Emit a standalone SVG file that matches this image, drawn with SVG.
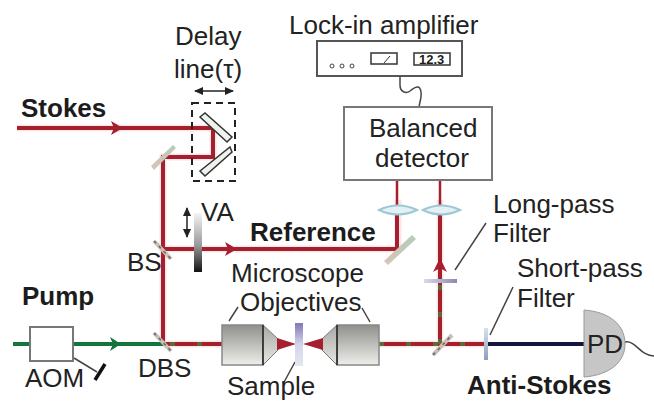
<svg xmlns="http://www.w3.org/2000/svg" width="654" height="401" viewBox="0 0 654 401">
<defs>
<linearGradient id="obj" x1="0" y1="0" x2="0" y2="1"><stop offset="0" stop-color="#8f8f8c"/><stop offset="1" stop-color="#eeeeea"/></linearGradient>
<linearGradient id="cone" x1="0" y1="0" x2="0" y2="1"><stop offset="0" stop-color="#a8a8a4"/><stop offset="1" stop-color="#e8e8e4"/></linearGradient>
<linearGradient id="va" x1="0" y1="0" x2="0" y2="1"><stop offset="0" stop-color="#f4f4f4"/><stop offset="0.55" stop-color="#999"/><stop offset="1" stop-color="#111"/></linearGradient>
<linearGradient id="sam" x1="0" y1="0" x2="0" y2="1"><stop offset="0" stop-color="#8078b8"/><stop offset="0.5" stop-color="#d4d4ea"/><stop offset="1" stop-color="#e4e8ee"/></linearGradient>
<linearGradient id="lp" x1="0" y1="0" x2="1" y2="0"><stop offset="0" stop-color="#d8dce8"/><stop offset="1" stop-color="#8a8ab4"/></linearGradient>
<linearGradient id="sp" x1="0" y1="0" x2="0" y2="1"><stop offset="0" stop-color="#d4e4ec"/><stop offset="1" stop-color="#8f9cc0"/></linearGradient>
<linearGradient id="mr" x1="0" y1="1" x2="1" y2="0"><stop offset="0" stop-color="#d8c4b8"/><stop offset="1" stop-color="#b4ccb8"/></linearGradient>
<marker id="ah" markerWidth="10" markerHeight="8" refX="8" refY="4" orient="auto-start-reverse" markerUnits="userSpaceOnUse"><path d="M0 0L9 4L0 8z" fill="#222"/></marker>
</defs>
<style>
text{font-family:"Liberation Sans",Arial,sans-serif;fill:#222;font-size:26px}
.b{font-weight:bold;fill:#1c1c1c}
.halo{fill:none;stroke:#fbe6e6;stroke-width:7}
.red{fill:none;stroke:#a51f2e;stroke-width:4}
.mix{fill:none;stroke:#5d6a3a;stroke-width:4;stroke-dasharray:5 22}
.grn{fill:none;stroke:#14753c;stroke-width:4}
.box{fill:#fff;stroke:#777;stroke-width:2}
.thin{fill:none;stroke:#444;stroke-width:1.5}
.lens{fill:#e4f1f4;stroke:#9cc8d4;stroke-width:2}
.bs{fill:none;stroke:#cbbfb6;stroke-width:4}
.bs2{fill:none;stroke:#666;stroke-width:1.5;stroke-dasharray:3 4}
.wf{fill:#eef3ee;stroke:#333;stroke-width:1.5}
</style>
<g id="connectors">
<path class="halo" d="M17 128H213V157H163V344M163 249H398V200M440 344V200M163 344H222M379 344H484"/>
<path class="red" d="M17 128H213V157H163V344"/>
<path class="red" d="M163 249H397V205"/>
<path class="red" d="M163 344H222"/>
<path class="red" d="M379 344H484"/>
<path class="mix" d="M170 344H222M379 344H484"/>
<path class="grn" d="M13 344H163"/>
<path class="red" d="M440 344V205"/>
<path class="mix" d="M440 344V285"/>
<path fill="none" stroke="#a51f2e" stroke-width="2.5" d="M397 205V181M440 205V181"/>
<path fill="#a51f2e" d="M237 249L225 242L228 249L225 256Z"/>
<path fill="#a51f2e" d="M123 128L111 121L114 128L111 135Z"/>
<path fill="#14753c" d="M121 344L110 337L113 344L110 351Z"/>
<path fill="#a51f2e" d="M440 258L433 272L440 268L447 272Z"/>
<path fill="none" stroke="#14143f" stroke-width="4" d="M487 344H585"/>
<path class="thin" d="M74 358L97 372M229 321L238 307M370 322L362 308M295 362L283 384M455 270L486 223M490 335L513 287M400 77V85C400 92 406 94 410 91C415 87 420 84 421 92C422 98 419 103 419 108"/>
<path class="thin" d="M625 342C636 340 640 356 654 356"/>
</g>
<g id="stokes"><text class="b" x="21" y="117">Stokes</text></g>
<g id="delay-line">
<text x="175" y="45">Delay</text><text x="174" y="78">line(τ)</text>
<path d="M195 91H233" stroke="#222" stroke-width="1.5" marker-start="url(#ah)" marker-end="url(#ah)"/>
<rect x="192" y="103" width="43" height="78" fill="none" stroke="#222" stroke-width="2" stroke-dasharray="7 5"/>
<path class="wf" d="M200 117L205 113L232 137L227 142Z"/>
<path class="wf" d="M230 147L232 152L205 176L200 171Z"/>
</g>
<g id="mirror-1"><path fill="url(#mr)" d="M151 166L173 145L176 148L154 170Z"/></g>
<g id="mirror-2"><path fill="url(#mr)" d="M384 261L412 235L416 239L388 265Z"/></g>
<g id="bs"><path class="bs" d="M154 241L171 259"/><path class="bs2" d="M154 241L171 259"/><text x="127" y="271">BS</text></g>
<g id="va"><rect x="194" y="213" width="8" height="59" fill="url(#va)"/><path d="M187 208V237" stroke="#222" stroke-width="1.5" marker-start="url(#ah)" marker-end="url(#ah)"/><text x="201" y="221">VA</text></g>
<g id="reference"><text class="b" x="250" y="241">Reference</text></g>
<g id="pump"><text class="b" x="22" y="305">Pump</text></g>
<g id="aom"><rect x="30" y="327" width="43" height="34" class="box"/><text x="25" y="387">AOM</text><path d="M105 364L95 380" stroke="#111" stroke-width="3.5"/></g>
<g id="dbs"><path class="bs" d="M154 333L171 351"/><path class="bs2" d="M154 333L171 351"/><text x="138" y="377">DBS</text></g>
<g id="objective-1"><rect x="222" y="325" width="41" height="40" fill="url(#obj)" stroke="#888" stroke-width="1.5"/><path d="M263 325V365L278 350V339Z" fill="url(#cone)" stroke="#777"/><path d="M263 325V365" stroke="#222" stroke-width="1.5"/><path d="M277 338L296 344L277 350Z" fill="#a51f2e"/></g>
<g id="sample"><rect x="295" y="323" width="8" height="43" fill="url(#sam)"/><text x="227" y="395">Sample</text></g>
<g id="objective-2"><rect x="337" y="325" width="42" height="40" fill="url(#obj)" stroke="#888" stroke-width="1.5"/><path d="M337 325V365L322 350V339Z" fill="url(#cone)" stroke="#777"/><path d="M337 325V365" stroke="#222" stroke-width="1.5"/><path d="M323 338L303 344L323 350Z" fill="#a51f2e"/></g>
<g id="microscope-label"><text x="231" y="282">Microscope</text><text x="240" y="311">Objectives</text></g>
<g id="lock-in"><text x="289" y="34">Lock-in amplifier</text><rect x="317" y="41" width="145" height="35" fill="#fff" stroke="#555" stroke-width="2"/>
<circle cx="332" cy="66" r="2" fill="none" stroke="#444"/><circle cx="342" cy="66" r="2" fill="none" stroke="#444"/><circle cx="352" cy="66" r="2" fill="none" stroke="#444"/>
<rect x="371" y="53" width="26" height="11" fill="none" stroke="#333" stroke-width="1.5"/><path d="M384 63L390 56" stroke="#333"/>
<rect x="414" y="53" width="36" height="12" fill="none" stroke="#333" stroke-width="1.5"/><text x="419" y="64" class="b" style="font-size:13px">12.3</text></g>
<g id="detector"><rect x="344" y="107" width="148" height="73" class="box"/><text x="369" y="137">Balanced</text><text x="375" y="167">detector</text></g>
<g id="lenses"><path class="lens" d="M379 210Q398 201 417 210Q398 219 379 210Z"/><path class="lens" d="M423 210Q441 201 460 210Q441 219 423 210Z"/></g>
<g id="long-pass"><text x="493" y="213">Long-pass</text><text x="493" y="242">Filter</text><rect x="424" y="279" width="33" height="4" fill="url(#lp)"/></g>
<g id="short-pass"><text x="517" y="277">Short-pass</text><text x="517" y="307">Filter</text><rect x="484" y="328" width="4" height="32" fill="url(#sp)"/></g>
<g id="dm"><path class="bs" d="M433 355L452 335"/><path class="bs2" d="M433 355L452 335"/></g>
<g id="pd"><path d="M584 310C610 312 625 325 625 344C625 362 610 375 584 377Z" fill="#c6c6c6" stroke="#999"/><text x="587" y="353">PD</text></g>
<g id="anti-stokes"><text class="b" x="467" y="394">Anti-Stokes</text></g>
</svg>
